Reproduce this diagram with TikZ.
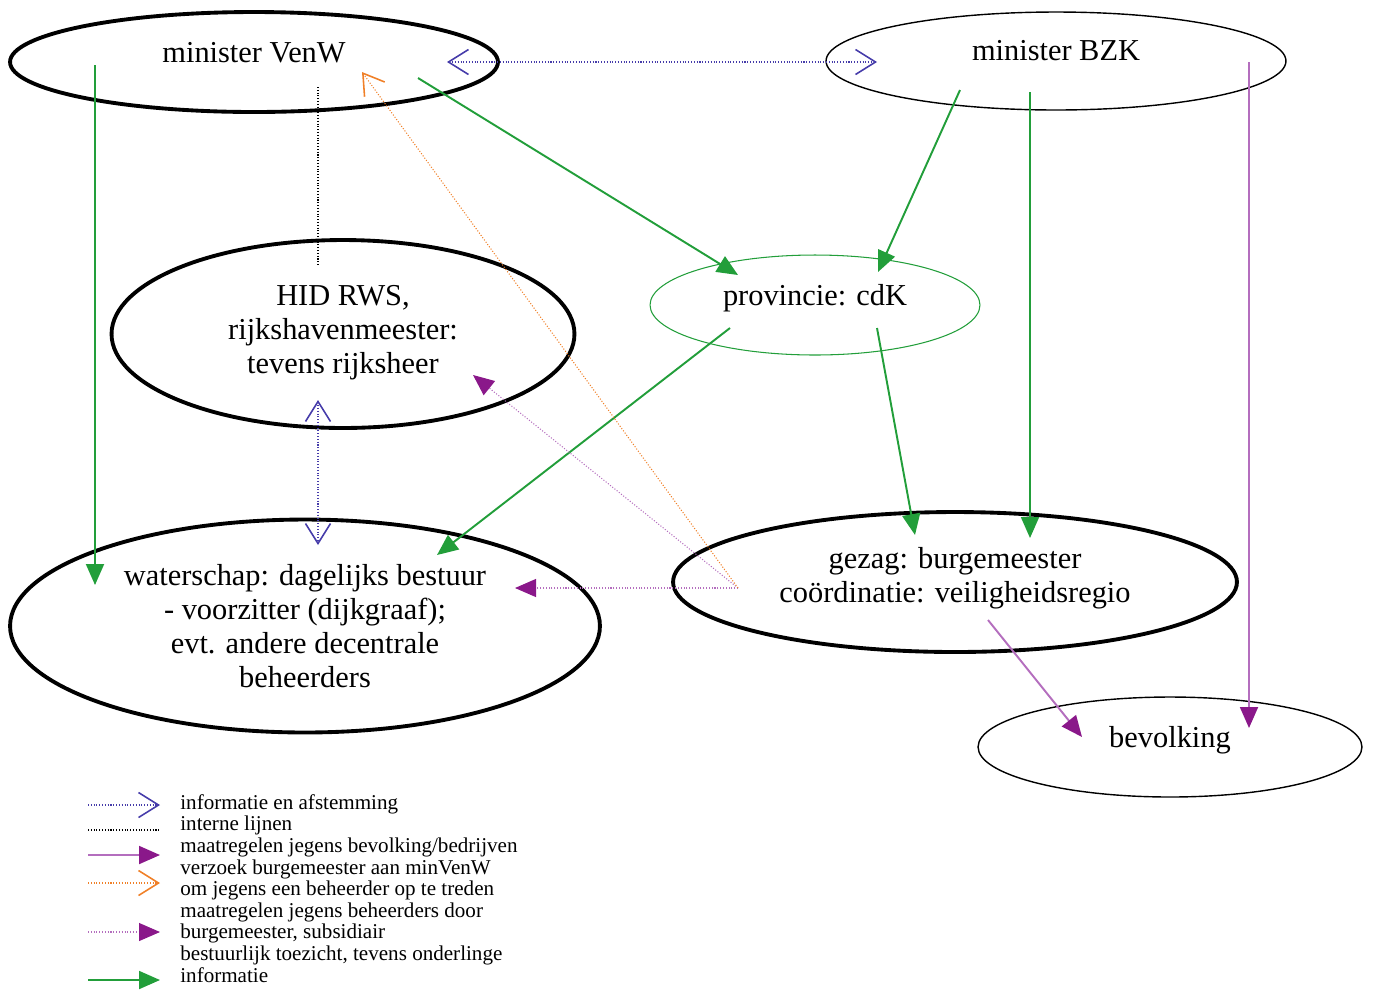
\documentclass[tikz,border=0pt]{standalone}
\usepackage{fontspec}
\setmainfont{Liberation Serif}
\usetikzlibrary{arrows.meta,shapes.geometric}

\definecolor{groen}{RGB}{34,158,58}
\definecolor{paars}{RGB}{138,24,138}
\definecolor{lichtpaars}{RGB}{180,110,190}
\definecolor{oranje}{RGB}{240,128,40}
\definecolor{blauw}{RGB}{70,60,170}

\tikzset{
  orgaan/.style={ellipse, draw, line width=2.2pt, align=center, inner sep=0pt, font=\fontsize{17.3}{19.3}\selectfont},
  dunorgaan/.style={orgaan, line width=0.8pt},
  groenpijl/.style={groen, line width=1.1pt, -{Triangle[length=0.42cm,width=0.36cm]}},
  paarspijl/.style={lichtpaars, line width=1.1pt, -{Triangle[length=0.42cm,width=0.36cm,color=paars]}},
  paarsstip/.style={lichtpaars, line width=0.6pt, densely dotted, -{Triangle[length=0.42cm,width=0.36cm,color=paars]}},
  oranjestip/.style={oranje, line width=0.6pt, densely dotted, -{Straight Barb[length=0.4cm,width=0.5cm,line width=0.9pt]}},
  blauwstip/.style={blauw, line width=0.6pt, densely dotted, {Straight Barb[length=0.4cm,width=0.5cm,line width=0.9pt]}-{Straight Barb[length=0.4cm,width=0.5cm,line width=0.9pt]}},
  intern/.style={black, line width=0.6pt, densely dotted},
  legtekst/.style={align=left, inner sep=0pt, font=\fontsize{12}{12.3}\selectfont}
}

\begin{document}
\begin{tikzpicture}[x=0.02cm, y=-0.02cm]
\useasboundingbox (0,0) rectangle (1375,992);

% Nodes
\node[orgaan, text depth=11pt, minimum width=9.76cm, minimum height=2cm] (venw) at (254,62) {minister VenW};
\node[dunorgaan, text depth=12.5pt, minimum width=9.2cm, minimum height=1.96cm] (bzk) at (1056,61) {minister BZK};
\node[orgaan, text depth=5.5pt, minimum width=9.26cm, minimum height=3.76cm] (hid) at (343,334) {HID RWS,\\ rijkshavenmeester:\\ tevens rijksheer};
\node[dunorgaan, draw=groen, line width=0.6pt, text depth=11.5pt, minimum width=6.6cm, minimum height=2cm] (prov) at (815,305) {provincie: cdK};
\node[orgaan, minimum width=11.8cm, minimum height=4.26cm] (ws) at (305,626) {waterschap: dagelijks bestuur\\ - voorzitter (dijkgraaf);\\ evt. andere decentrale\\ beheerders};
\node[orgaan, text depth=8.5pt, minimum width=11.28cm, minimum height=2.8cm] (gezag) at (955,582) {gezag: burgemeester\\ coördinatie: veiligheidsregio};
\node[dunorgaan, text depth=11.5pt, minimum width=7.68cm, minimum height=2cm] (bev) at (1170,747) {bevolking};

% Arrow ends
\coordinate (venw-l) at (95,65);
\coordinate (venw-r) at (418,78);
\coordinate (venw-b) at (362,72);
\coordinate (venw-e) at (447,62);
\coordinate (venw-s) at (318,87);
\coordinate (bzk-a) at (960,90);
\coordinate (bzk-b) at (1030,92);
\coordinate (bzk-c) at (1249,62);
\coordinate (bzk-w) at (877,62);
\coordinate (hid-n) at (318,265);
\coordinate (hid-s) at (318,400);
\coordinate (hid-r) at (473,375);
\coordinate (prov-tl) at (738,275);
\coordinate (prov-tr) at (878,272);
\coordinate (prov-bl) at (730,328);
\coordinate (prov-br) at (877,328);
\coordinate (ws-l) at (95,585);
\coordinate (ws-t) at (437,555);
\coordinate (ws-n) at (318,545);
\coordinate (ws-r) at (515,588);
\coordinate (gezag-t) at (1030,538);
\coordinate (gezag-tl) at (915,535);
\coordinate (gezag-w) at (738,588);
\coordinate (gezag-b) at (988,620);
\coordinate (bev-l) at (1082,737);
\coordinate (bev-t) at (1249,728);

% Connectors
\draw[groenpijl] (venw-l) -- (ws-l);
\draw[groenpijl] (venw-r) -- (prov-tl);
\draw[groenpijl] (bzk-a) -- (prov-tr);
\draw[groenpijl] (bzk-b) -- (gezag-t);
\draw[groenpijl] (prov-bl) -- (ws-t);
\draw[groenpijl] (prov-br) -- (gezag-tl);
\draw[paarspijl] (gezag-b) -- (bev-l);
\draw[paarspijl] (bzk-c) -- (bev-t);
\draw[paarsstip] (gezag-w) -- (hid-r);
\draw[paarsstip] (gezag-w) -- (ws-r);
\draw[oranjestip] (gezag-w) -- (venw-b);
\draw[blauwstip] (venw-e) -- (bzk-w);
\draw[blauwstip] (hid-s) -- (ws-n);
\draw[intern] (venw-s) -- (hid-n);

% Legend
\foreach \naam/\y in {a/805, b/830, c/855, d/883, e/932, f/980}{
  \coordinate (leg-\naam1) at (88,\y);
  \coordinate (leg-\naam2) at (160,\y);
}
\draw[blauwstip, {}-{Straight Barb[length=0.4cm,width=0.5cm,line width=0.9pt]}] (leg-a1) -- (leg-a2);
\draw[intern] (leg-b1) -- (leg-b2);
\draw[paarspijl] (leg-c1) -- (leg-c2);
\draw[oranjestip] (leg-d1) -- (leg-d2);
\draw[paarsstip] (leg-e1) -- (leg-e2);
\draw[groenpijl] (leg-f1) -- (leg-f2);
\node[legtekst, anchor=north west] (legenda) at (180,794) {informatie en afstemming\\ interne lijnen\\ maatregelen jegens bevolking/bedrijven\\ verzoek burgemeester aan minVenW\\ om jegens een beheerder op te treden\\ maatregelen jegens beheerders door\\ burgemeester, subsidiair\\ bestuurlijk toezicht, tevens onderlinge\\ informatie};
\end{tikzpicture}
\end{document}
